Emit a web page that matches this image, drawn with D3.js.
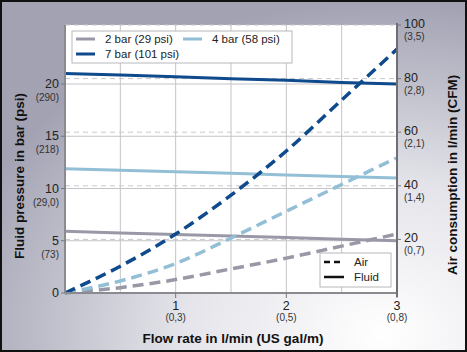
<!DOCTYPE html>
<html lang="en">
    <head>
        <meta charset="utf-8">
        <title>Fluid pressure and air consumption</title>
        <script src="https://d3js.org/d3.v7.min.js"></script>
        <style type="text/css">
            body { margin: 0; }
            svg text { font-family: "Liberation Sans", Arial, sans-serif; fill: #222; }
            .sub { font-size: 10px; fill: #333; }
            .tick { font-size: 12.5px; }
            .title { font-size: 13.5px; font-weight: bold; fill: #111; }
            .legend text { font-size: 11.5px; fill: #222; }
        </style>
    </head>
    <body>
        <script type="text/javascript">

            const w = 467;
            const h = 352;

            // data
            const flow = [0, 0.5, 1, 1.5, 2, 2.5, 3];
            const fluid2 = [5.9, 5.75, 5.6, 5.45, 5.3, 5.15, 5.0];
            const fluid4 = [11.9, 11.75, 11.6, 11.45, 11.3, 11.15, 11.0];
            const fluid7 = [21.0, 20.85, 20.7, 20.5, 20.35, 20.15, 20.0];
            const air2 = [0, 2, 5, 9, 13, 17.5, 22];
            const air4 = [0, 4.5, 11, 20.5, 30.5, 40.5, 50.5];
            const air7 = [0, 10, 22, 36.5, 53, 72, 91];

            const seriesNames = ["2 bar (29 psi)", "4 bar (58 psi)", "7 bar (101 psi)"];
            const seriesColors = ["#9898a6", "#93bfd6", "#0f4a8c"];

            const xTicks = [1, 2, 3];
            const xSubLabels = ["(0,3)", "(0,5)", "(0,8)"];
            const leftTicks = [0, 5, 10, 15, 20];
            const leftSubLabels = ["", "(73)", "(29,0)", "(218)", "(290)"];
            const rightTicks = [20, 40, 60, 80, 100];
            const rightSubLabels = ["(0,7)", "(1,4)", "(2,1)", "(2,8)", "(3,5)"];

            const plot = {left: 65, right: 397, top: 25, bottom: 293};

            const xScale = d3.scaleLinear().domain([0, 3]).range([plot.left, plot.right]);
            const yLeft = d3.scaleLinear().domain([0, 20]).range([plot.bottom, 84]);
            const yRight = d3.scaleLinear().domain([0, 100]).range([plot.bottom, plot.top]);

            const svg = d3.select("body").append("svg")
                .attr("width", w)
                .attr("height", h);

            // background gradient
            const defs = svg.append("defs");
            const grad = defs.append("radialGradient")
                .attr("id", "bg")
                .attr("cx", "0.82").attr("cy", "0.95").attr("r", "0.95");
            grad.append("stop").attr("offset", "0%").attr("stop-color", "#ffffff");
            grad.append("stop").attr("offset", "45%").attr("stop-color", "#e4e4ea");
            grad.append("stop").attr("offset", "100%").attr("stop-color", "#a2a2b3");

            svg.append("rect")
                .attr("x", 1).attr("y", 1)
                .attr("width", w - 2).attr("height", h - 2)
                .attr("fill", "url(#bg)")
                .attr("stroke", "#111")
                .attr("stroke-width", 2);

            // plot area
            svg.append("rect")
                .attr("x", plot.left).attr("y", plot.top)
                .attr("width", plot.right - plot.left)
                .attr("height", plot.bottom - plot.top)
                .attr("fill", "white");

            // vertical grid every 0.5
            svg.append("g").selectAll("line")
                .data(d3.range(0.5, 3, 0.5))
                .join("line")
                .attr("x1", d => xScale(d)).attr("x2", d => xScale(d))
                .attr("y1", plot.top).attr("y2", plot.bottom)
                .attr("stroke", "#c4c4c8").attr("stroke-width", 1);

            // solid grid at left ticks
            svg.append("g").selectAll("line")
                .data(leftTicks.slice(1))
                .join("line")
                .attr("x1", plot.left).attr("x2", plot.right)
                .attr("y1", d => yLeft(d)).attr("y2", d => yLeft(d))
                .attr("stroke", "#c4c4c8").attr("stroke-width", 1);

            // dashed grid at right ticks
            svg.append("g").selectAll("line")
                .data(rightTicks)
                .join("line")
                .attr("x1", plot.left).attr("x2", plot.right)
                .attr("y1", d => yRight(d)).attr("y2", d => yRight(d))
                .attr("stroke", "#c8c8cc").attr("stroke-width", 1)
                .attr("stroke-dasharray", "5 4");

            // lines
            const fluidLine = d3.line().x((d, i) => xScale(flow[i])).y(d => yLeft(d));
            const airLine = d3.line().x((d, i) => xScale(flow[i])).y(d => yRight(d)).curve(d3.curveMonotoneX);

            const fluidData = [fluid2, fluid4, fluid7];
            const airData = [air2, air4, air7];

            svg.append("g").selectAll("path")
                .data(fluidData)
                .join("path")
                .attr("d", fluidLine)
                .attr("fill", "none")
                .attr("stroke", (d, i) => seriesColors[i])
                .attr("stroke-width", 3);

            svg.append("g").selectAll("path")
                .data(airData)
                .join("path")
                .attr("d", airLine)
                .attr("fill", "none")
                .attr("stroke", (d, i) => seriesColors[i])
                .attr("stroke-width", 3.5)
                .attr("stroke-dasharray", "11 6");

            // axes lines
            svg.append("line")
                .attr("x1", plot.left).attr("x2", plot.left)
                .attr("y1", plot.top).attr("y2", plot.bottom)
                .attr("stroke", "#8a8a90").attr("stroke-width", 2);
            svg.append("line")
                .attr("x1", plot.left).attr("x2", plot.right)
                .attr("y1", plot.bottom).attr("y2", plot.bottom)
                .attr("stroke", "#8a8a90").attr("stroke-width", 2);
            svg.append("line")
                .attr("x1", plot.right).attr("x2", plot.right)
                .attr("y1", plot.top - 2).attr("y2", plot.bottom + 4)
                .attr("stroke", "#6e6e74").attr("stroke-width", 2);

            // left axis ticks and labels
            const lt = svg.append("g").selectAll("g")
                .data(leftTicks)
                .join("g")
                .attr("transform", d => "translate(" + plot.left + "," + yLeft(d) + ")");
            lt.append("line").attr("x1", -4).attr("x2", 0).attr("stroke", "#777");
            lt.append("text").attr("class", "tick")
                .attr("x", -6).attr("y", 4)
                .attr("text-anchor", "end")
                .text(d => d);
            lt.append("text").attr("class", "sub")
                .attr("x", -6).attr("y", 17)
                .attr("text-anchor", "end")
                .text((d, i) => leftSubLabels[i]);

            // right axis ticks and labels
            const rt = svg.append("g").selectAll("g")
                .data(rightTicks)
                .join("g")
                .attr("transform", d => "translate(" + plot.right + "," + yRight(d) + ")");
            rt.append("line").attr("x1", 0).attr("x2", 4).attr("stroke", "#777");
            rt.append("text").attr("class", "tick")
                .attr("x", 7).attr("y", 3)
                .text(d => d);
            rt.append("text").attr("class", "sub")
                .attr("x", 7).attr("y", 15)
                .text((d, i) => rightSubLabels[i]);

            // bottom axis ticks and labels
            const bt = svg.append("g").selectAll("g")
                .data(xTicks)
                .join("g")
                .attr("transform", d => "translate(" + xScale(d) + "," + plot.bottom + ")");
            bt.append("line").attr("y1", 0).attr("y2", 5).attr("stroke", "#777");
            bt.append("text").attr("class", "tick")
                .attr("y", 17).attr("text-anchor", "middle")
                .text(d => d);
            bt.append("text").attr("class", "sub")
                .attr("y", 28).attr("text-anchor", "middle")
                .text((d, i) => xSubLabels[i]);

            // axis titles
            svg.append("text").attr("class", "title")
                .attr("x", 233).attr("y", 343)
                .attr("text-anchor", "middle")
                .text("Flow rate in l/min (US gal/m)");
            svg.append("text").attr("class", "title")
                .attr("transform", "translate(24,176) rotate(-90)")
                .attr("text-anchor", "middle")
                .text("Fluid pressure in bar (psi)");
            svg.append("text").attr("class", "title")
                .attr("transform", "translate(457,175) rotate(-90)")
                .attr("text-anchor", "middle")
                .text("Air consumption in l/min (CFM)");

            // series legend
            const leg = svg.append("g").attr("class", "legend");
            leg.append("rect")
                .attr("x", 72).attr("y", 31).attr("width", 220).attr("height", 32)
                .attr("fill", "white").attr("stroke", "#b8b8bc");
            const legPos = [[76, 39], [183, 39], [76, 54]];
            const li = leg.selectAll("g.item")
                .data(seriesNames)
                .join("g").attr("class", "item")
                .attr("transform", (d, i) => "translate(" + legPos[i][0] + "," + legPos[i][1] + ")");
            li.append("line").attr("x1", 0).attr("x2", 19)
                .attr("stroke", (d, i) => seriesColors[i]).attr("stroke-width", 3);
            li.append("text").attr("x", 29).attr("y", 4).text(d => d);

            // style legend
            const styleNames = ["Air", "Fluid"];
            const styleDash = ["6 4", null];
            const leg2 = svg.append("g").attr("class", "legend");
            leg2.append("rect")
                .attr("x", 320).attr("y", 253).attr("width", 71).attr("height", 34)
                .attr("fill", "white").attr("stroke", "#b8b8bc");
            const si = leg2.selectAll("g.item")
                .data(styleNames)
                .join("g").attr("class", "item")
                .attr("transform", (d, i) => "translate(324," + (262 + i * 15) + ")");
            si.append("line").attr("x1", 0).attr("x2", 20)
                .attr("stroke", "#111").attr("stroke-width", 2.5)
                .attr("stroke-dasharray", (d, i) => styleDash[i]);
            si.append("text").attr("x", 30).attr("y", 4).text(d => d);

        </script>
    </body>
</html>
